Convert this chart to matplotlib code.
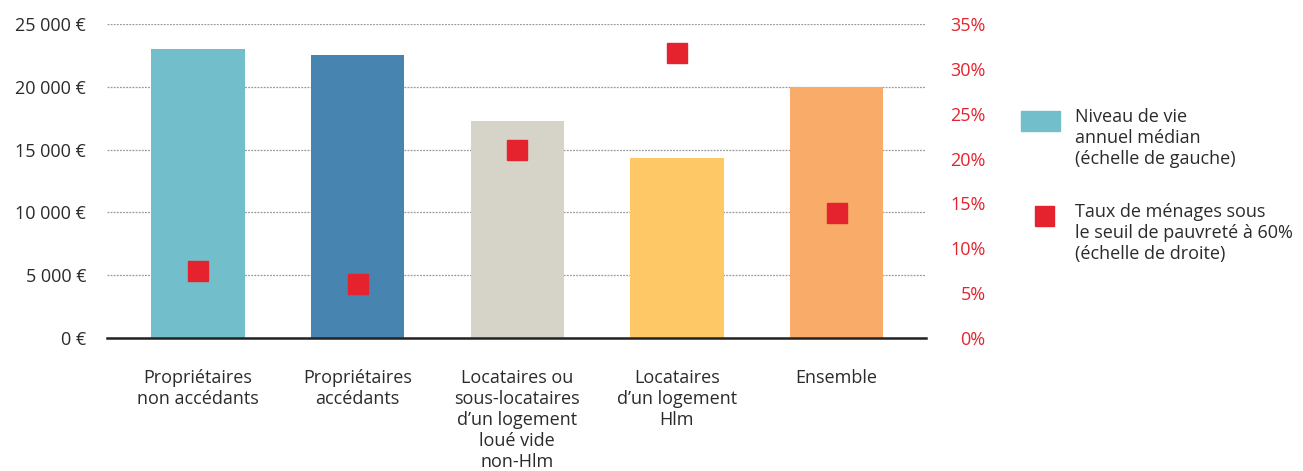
import matplotlib
matplotlib.use("Agg")
import matplotlib.pyplot as plt
from matplotlib.patches import Rectangle
from matplotlib.ticker import FuncFormatter

plt.rcParams['font.family'] = ['Open Sans', 'DejaVu Sans']

categories = [
    "Propriétaires\nnon accédants",
    "Propriétaires\naccédants",
    "Locataires ou\nsous-locataires\nd\u2019un logement\nloué vide\nnon-Hlm",
    "Locataires\nd\u2019un logement\nHlm",
    "Ensemble",
]
niveau_vie = [23000, 22500, 17300, 14350, 20000]
taux_pauvrete = [7.5, 6.0, 21.0, 31.8, 13.9]
bar_colors = ["#72BFCB", "#4884B0", "#D6D3C8", "#FDC865", "#F9AB69"]

text_col = "#2b2b2b"
red = "#E4232F"
fs = 13

fig = plt.figure(figsize=(13.03, 4.71), dpi=100)
ax = fig.add_axes([107 / 1303, 133 / 471, 819 / 1303, 314 / 471])
ax2 = ax.twinx()

xs = list(range(len(categories)))
ax.bar(xs, niveau_vie, width=0.585, color=bar_colors, zorder=2)
ax.set_xlim(-0.57, 4.56)
ax.set_ylim(0, 25000)
ax.set_yticks(range(0, 25001, 5000))
ax.yaxis.set_major_formatter(FuncFormatter(
    lambda v, p: "0 €" if v == 0 else f"{int(v):,} €".replace(",", " ")))
ax.grid(axis='y', linestyle=(0, (1.5, 1)), color="#9a9a9a", linewidth=0.9, zorder=0)
ax.set_axisbelow(True)

ax2.plot(xs, taux_pauvrete, linestyle='none', marker='s', markersize=14,
         color=red, zorder=3)
ax2.set_ylim(0, 35)
ax2.set_yticks(range(0, 36, 5))
ax2.set_yticklabels([f"{v}%" for v in range(0, 36, 5)], ha='right')

ax.set_xticks(xs)
ax.set_xticklabels(categories, linespacing=1.22)

for a in (ax, ax2):
    for s in a.spines.values():
        s.set_visible(False)
ax.spines['bottom'].set_visible(True)
ax.spines['bottom'].set_color("#222222")
ax.spines['bottom'].set_linewidth(1.8)

ax.tick_params(axis='x', length=0, pad=22, labelsize=fs, labelcolor=text_col)
ax.tick_params(axis='y', length=0, pad=15, labelsize=fs, labelcolor=text_col)
ax2.tick_params(axis='y', length=0, pad=43, labelsize=fs, labelcolor=red)

# legend
fig.patches.append(Rectangle((1021 / 1303, 1 - 131 / 471), 39 / 1303, 20 / 471,
                             transform=fig.transFigure, color=bar_colors[0]))
fig.patches.append(Rectangle((1035 / 1303, 1 - 226 / 471), 19 / 1303, 20 / 471,
                             transform=fig.transFigure, color=red))
fig.text(1075 / 1303, 1 - 108 / 471, "Niveau de vie\nannuel médian\n(échelle de gauche)",
         ha='left', va='top', fontsize=fs, color=text_col, linespacing=1.22)
fig.text(1075 / 1303, 1 - 203 / 471,
         "Taux de ménages sous\nle seuil de pauvreté à 60%\n(échelle de droite)",
         ha='left', va='top', fontsize=fs, color=text_col, linespacing=1.22)

fig.savefig("out.png", dpi=100)
